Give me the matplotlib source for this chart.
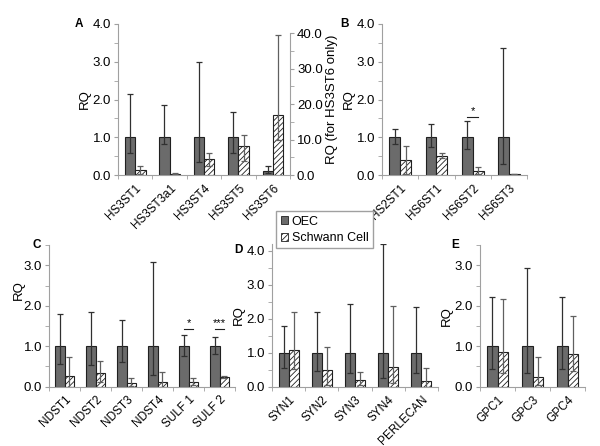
import numpy as np
import matplotlib
matplotlib.use('Agg')
import matplotlib.pyplot as plt
from matplotlib.patches import Patch
from matplotlib.ticker import MultipleLocator, FormatStrFormatter

plt.rcParams['font.family'] = ['Liberation Sans', 'DejaVu Sans']
plt.rcParams['hatch.linewidth'] = 0.6

# RQ values with RQmin / RQmax
a_genes = ['HS3ST1', 'HS3ST3a1', 'HS3ST4', 'HS3ST5']
a_oec = [1.0, 1.0, 1.0, 1.0]
a_oec_lo = [0.57, 0.81, 0.34, 0.59]
a_oec_hi = [2.14, 1.85, 3.0, 1.66]
a_sc = [0.13, 0.04, 0.43, 0.77]
a_sc_lo = [0.02, 0.02, 0.24, 0.37]
a_sc_hi = [0.24, 0.06, 0.59, 1.06]

# HS3ST6 on the right axis
a6_gene = 'HS3ST6'
a6_oec, a6_oec_lo, a6_oec_hi = 1.0, 0.5, 2.6
a6_sc, a6_sc_lo, a6_sc_hi = 17.0, 10.0, 39.5

b_genes = ['HS2ST1', 'HS6ST1', 'HS6ST2', 'HS6ST3']
b_oec = [1.0, 1.0, 1.0, 1.0]
b_oec_lo = [0.82, 0.73, 0.70, 0.28]
b_oec_hi = [1.21, 1.34, 1.43, 3.36]
b_sc = [0.40, 0.50, 0.10, 0.03]
b_sc_lo = [0.02, 0.44, 0.04, 0.02]
b_sc_hi = [0.78, 0.57, 0.20, 0.04]

c_genes = ['NDST1', 'NDST2', 'NDST3', 'NDST4', 'SULF 1', 'SULF 2']
c_oec = [1.0, 1.0, 1.0, 1.0, 1.0, 1.0]
c_oec_lo = [0.55, 0.54, 0.60, 0.30, 0.77, 0.81]
c_oec_hi = [1.79, 1.85, 1.65, 3.09, 1.28, 1.22]
c_sc = [0.27, 0.35, 0.10, 0.12, 0.11, 0.25]
c_sc_lo = [0.0, 0.12, 0.02, 0.0, 0.03, 0.22]
c_sc_hi = [0.74, 0.63, 0.21, 0.37, 0.21, 0.27]

d_genes = ['SYN1', 'SYN2', 'SYN3', 'SYN4', 'PERLECAN']
d_oec = [1.0, 1.0, 1.0, 1.0, 1.0]
d_oec_lo = [0.54, 0.46, 0.39, 0.25, 0.39]
d_oec_hi = [1.79, 2.19, 2.42, 4.19, 2.33]
d_sc = [1.08, 0.49, 0.20, 0.59, 0.17]
d_sc_lo = [0.51, 0.05, 0.05, 0.10, 0.0]
d_sc_hi = [2.19, 1.18, 0.42, 2.37, 0.55]

e_genes = ['GPC1', 'GPC3', 'GPC4']
e_oec = [1.0, 1.0, 1.0]
e_oec_lo = [0.45, 0.35, 0.45]
e_oec_hi = [2.23, 2.94, 2.23]
e_sc = [0.86, 0.25, 0.82]
e_sc_lo = [0.33, 0.04, 0.39]
e_sc_hi = [2.18, 0.73, 1.76]

OEC_COL = '#6b6b6b'
SPINE = '#a0a0a0'
W = 0.3


def errs(v, lo, hi):
    v = np.asarray(v); lo = np.asarray(lo); hi = np.asarray(hi)
    return [v - lo, hi - v]


def draw_pair(ax, x, oec, oec_lo, oec_hi, sc, sc_lo, sc_hi):
    ax.bar(x - W/2, oec, W, color=OEC_COL, edgecolor='#202020', lw=0.8,
           yerr=errs(oec, oec_lo, oec_hi),
           error_kw=dict(ecolor='#303030', elinewidth=0.9, capsize=2, capthick=0.9))
    ax.bar(x + W/2, sc, W, color='white', edgecolor='#202020', lw=0.8, hatch='//////',
           yerr=errs(sc, sc_lo, sc_hi),
           error_kw=dict(ecolor='#606060', elinewidth=0.9, capsize=2, capthick=0.9))


def style(ax, labels, n, ymax, ylabel=True):
    for s in ['top', 'right']:
        ax.spines[s].set_visible(False)
    for s in ['left', 'bottom']:
        ax.spines[s].set_color(SPINE)
        ax.spines[s].set_linewidth(0.8)
    ax.set_xlim(-0.5, n - 0.5)
    ax.set_ylim(0, ymax)
    ax.set_xticks(np.arange(len(labels)))
    ax.set_xticklabels(labels, rotation=45, ha='right', rotation_mode='anchor', fontsize=8.5)
    ax.set_xticks(np.arange(n + 1) - 0.5, minor=True)
    ax.tick_params(axis='x', which='major', length=0, pad=5)
    ax.tick_params(axis='x', which='minor', length=3, color=SPINE)
    ax.yaxis.set_major_locator(MultipleLocator(1.0))
    ax.yaxis.set_minor_locator(MultipleLocator(0.5))
    ax.yaxis.set_major_formatter(FormatStrFormatter('%.1f'))
    ax.tick_params(axis='y', which='both', length=3, color=SPINE, labelsize=9.5, pad=2)
    if ylabel:
        ax.set_ylabel('RQ', fontsize=9.5, labelpad=1)


def sig(ax, i, y, txt):
    ax.plot([i - W/2, i + W/2], [y, y], color='#202020', lw=0.8)
    ax.text(i, y + 0.02, txt, ha='center', va='bottom', fontsize=8)


fig = plt.figure(figsize=(6.0, 4.46), dpi=100)

# Panel A
axA = fig.add_axes([0.1967, 0.6076, 0.2867, 0.3386])
xa = np.arange(len(a_genes))
draw_pair(axA, xa, a_oec, a_oec_lo, a_oec_hi, a_sc, a_sc_lo, a_sc_hi)
style(axA, a_genes + [a6_gene], 5, 4.0)
axA2 = axA.twinx()
draw_pair(axA2, np.array([4]), [a6_oec], [a6_oec_lo], [a6_oec_hi],
          [a6_sc], [a6_sc_lo], [a6_sc_hi])
axA2.set_ylim(0, 42.6)
for s in ['top', 'left', 'bottom']:
    axA2.spines[s].set_visible(False)
axA2.spines['right'].set_color(SPINE)
axA2.spines['right'].set_linewidth(0.8)
axA2.spines['right'].set_bounds(0, 40)
axA2.set_yticks([0, 10, 20, 30, 40])
axA2.yaxis.set_minor_locator(MultipleLocator(5))
axA2.yaxis.set_major_formatter(FormatStrFormatter('%.1f'))
axA2.tick_params(axis='y', which='both', length=3, color=SPINE, labelsize=9.5, pad=2)
axA2.set_ylabel('RQ (for HS3ST6 only)', fontsize=9.5, labelpad=2)
axA.text(-0.25, 1.0, 'A', transform=axA.transAxes, fontsize=8.5, fontweight='bold', va='center')

# Panel B
axB = fig.add_axes([0.6367, 0.6076, 0.2417, 0.3386])
xb = np.arange(len(b_genes))
draw_pair(axB, xb, b_oec, b_oec_lo, b_oec_hi, b_sc, b_sc_lo, b_sc_hi)
style(axB, b_genes, 4, 4.0)
sig(axB, 2, 1.53, '*')
axB.text(-0.29, 1.0, 'B', transform=axB.transAxes, fontsize=8.5, fontweight='bold', va='center')

# Panel C
axC = fig.add_axes([0.0817, 0.1330, 0.31, 0.3170])
xc = np.arange(len(c_genes))
draw_pair(axC, xc, c_oec, c_oec_lo, c_oec_hi, c_sc, c_sc_lo, c_sc_hi)
style(axC, c_genes, 6, 3.5)
axC.yaxis.set_label_coords(-0.13, 0.68)
sig(axC, 4, 1.42, '*')
sig(axC, 5, 1.42, '***')
axC.text(-0.09, 1.0, 'C', transform=axC.transAxes, fontsize=8.5, fontweight='bold', va='center')

# Panel D
axD = fig.add_axes([0.4533, 0.1330, 0.2767, 0.3202])
xd = np.arange(len(d_genes))
draw_pair(axD, xd, d_oec, d_oec_lo, d_oec_hi, d_sc, d_sc_lo, d_sc_hi)
style(axD, d_genes, 5, 4.2)
axD.text(-0.23, 0.96, 'D', transform=axD.transAxes, fontsize=8.5, fontweight='bold', va='center')

# Panel E
axE = fig.add_axes([0.80, 0.1330, 0.175, 0.3170])
xe = np.arange(len(e_genes))
draw_pair(axE, xe, e_oec, e_oec_lo, e_oec_hi, e_sc, e_sc_lo, e_sc_hi)
style(axE, e_genes, 3, 3.5)
axE.text(-0.27, 1.0, 'E', transform=axE.transAxes, fontsize=8.5, fontweight='bold', va='center')

handles = [Patch(facecolor=OEC_COL, edgecolor='#202020', lw=0.6),
           Patch(facecolor='white', edgecolor='#202020', lw=0.6, hatch='//////')]
fig.legend(handles, ['OEC', 'Schwann Cell'], loc='upper left',
           bbox_to_anchor=(270/600, 1 - 205/446), fontsize=9,
           handlelength=0.6, handleheight=0.6, handletextpad=0.3,
           borderpad=0.35, labelspacing=0.35, fancybox=False,
           edgecolor='#a0a0a0', framealpha=1)

fig.savefig('out.png', dpi=100)
